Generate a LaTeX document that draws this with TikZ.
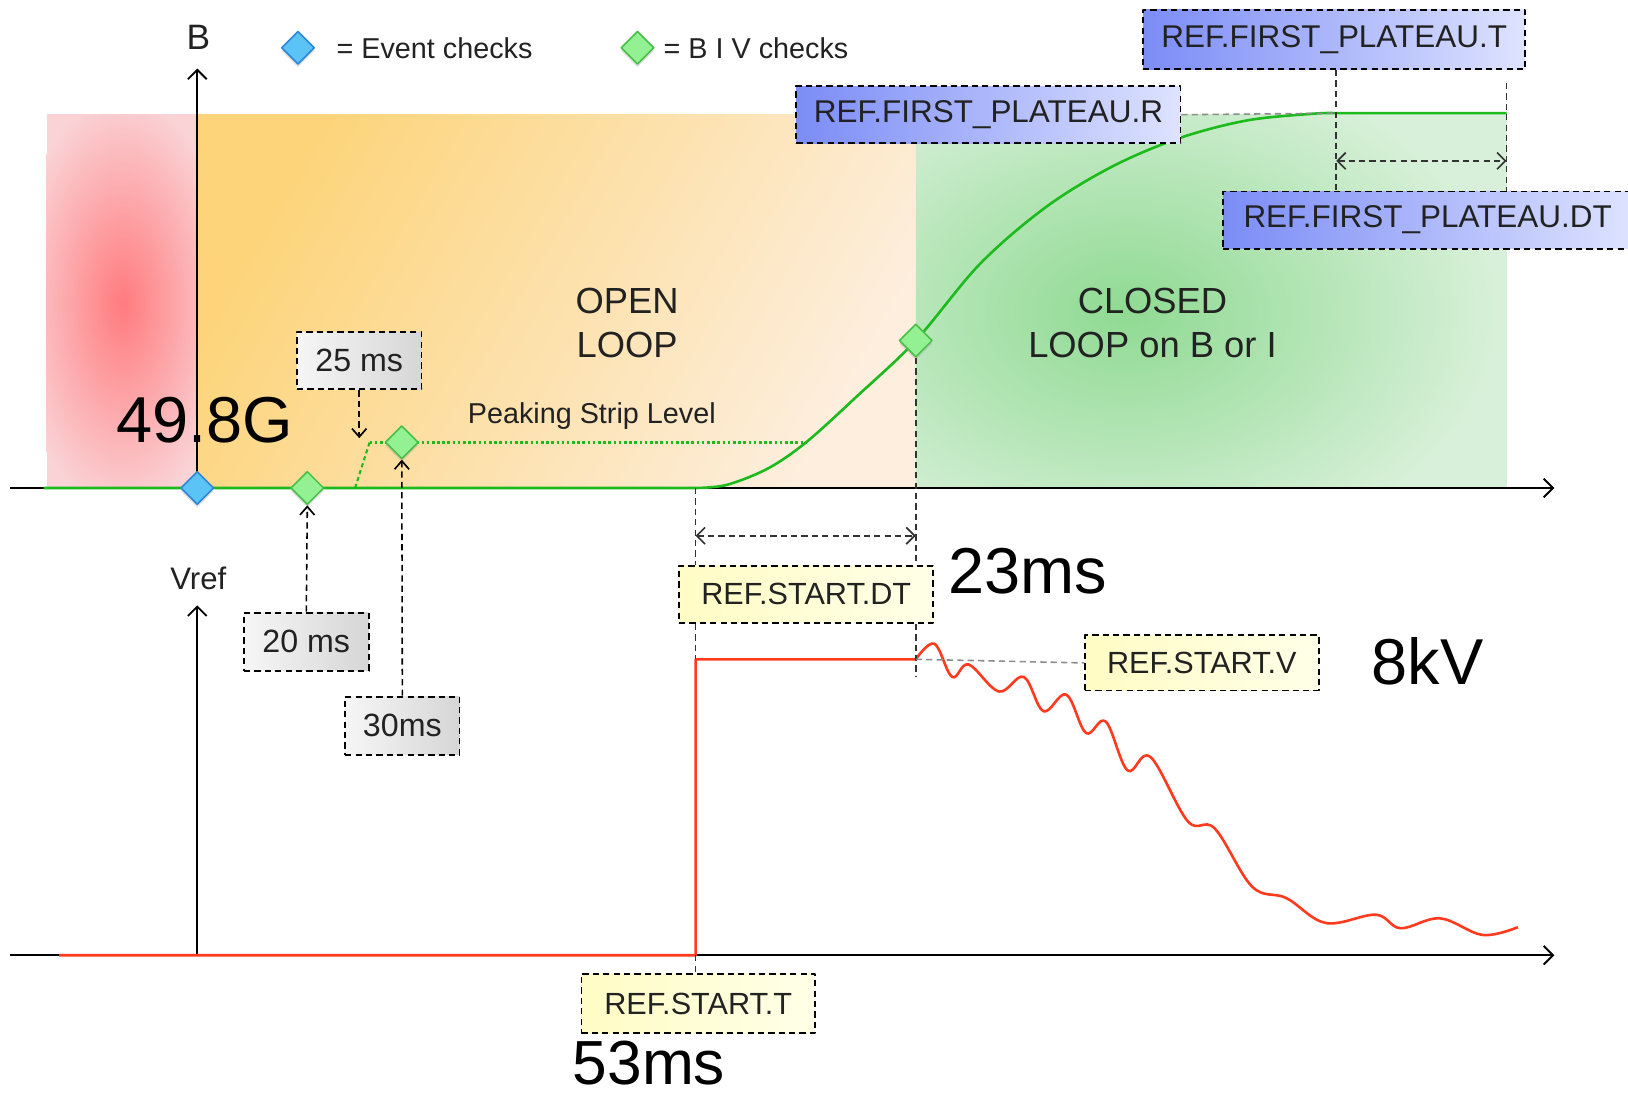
\documentclass[tikz,border=0pt]{standalone}
\usepackage{fontspec}
\setmainfont{Liberation Sans}
\usetikzlibrary{arrows.meta,positioning,shapes.geometric,calc,shadows}
\definecolor{Ink}{HTML}{222222}
\definecolor{Guide}{HTML}{333333}
\definecolor{Faint}{HTML}{8C8C8C}
\definecolor{BLine}{HTML}{1DBA1D}
\definecolor{VLine}{HTML}{FF3B1F}
\definecolor{EvFill}{HTML}{5CC3F7}
\definecolor{EvDraw}{HTML}{2E86D6}
\definecolor{ChkFill}{HTML}{93F093}
\definecolor{ChkDraw}{HTML}{47C047}
\definecolor{RedIn}{HTML}{FF7B7E}
\definecolor{RedOut}{HTML}{FAD3D6}
\definecolor{OrgA}{HTML}{FDD47A}
\definecolor{OrgB}{HTML}{FDEEDD}
\definecolor{GrnIn}{HTML}{8FDA92}
\definecolor{GrnOut}{HTML}{D8F0D9}
\definecolor{BlueA}{HTML}{7B8CF6}
\definecolor{BlueB}{HTML}{DEE3FF}
\definecolor{YelA}{HTML}{FFFCC4}
\definecolor{YelM}{HTML}{FFFA78}
\definecolor{YelB}{HTML}{FFFFE8}
\definecolor{GreyA}{HTML}{F6F6F6}
\definecolor{GreyB}{HTML}{D6D6D6}

\begin{document}
\begin{tikzpicture}[x=1pt,y=-1pt,line join=round,
  lbl/.style={text=Ink,inner sep=0pt,font=\fontsize{27.7}{33}\selectfont},
  big/.style={text=black,inner sep=0pt,font=\fontsize{62.5}{75}\selectfont},
  zone/.style={text=Ink,align=center,inner sep=0pt,font=\fontsize{35}{42}\selectfont},
  refbox/.style={draw=black,line width=1.8pt,dash pattern=on 6pt off 4pt,text=Ink,inner sep=0pt,minimum height=55pt},
  bluebox/.style={refbox,left color=BlueA,right color=BlueB,font=\fontsize{30.3}{36}\selectfont},
  yelbox/.style={refbox,left color=YelA,middle color=YelM,right color=YelB,font=\fontsize{29.5}{35}\selectfont},
  greybox/.style={refbox,left color=GreyA,right color=GreyB,font=\fontsize{31}{37}\selectfont},
  ev/.style={diamond,aspect=1,draw=EvDraw,fill=EvFill,line width=1.5pt,minimum size=32pt,inner sep=0pt,
    drop shadow={shadow xshift=0pt,shadow yshift=-3pt,opacity=0.25}},
  chk/.style={ev,draw=ChkDraw,fill=ChkFill},
  axis/.style={draw=black,line width=2pt,-{Straight Barb[length=9pt,width=18pt,line width=1.8pt]}},
  guide/.style={draw=Guide,line width=1.5pt,dash pattern=on 6pt off 4pt},
  faint/.style={guide,draw=Faint},
  dimarr/.style={guide,{Straight Barb[length=8pt,width=16pt,line width=1.6pt]}-{Straight Barb[length=8pt,width=16pt,line width=1.6pt]}},
  darrow/.style={guide,draw=black,-{Straight Barb[length=8pt,width=14pt,line width=1.6pt]}},
  bcurve/.style={draw=BLine,line width=2.5pt},
  vcurve/.style={draw=VLine,line width=2.5pt}
]
\fill[white,use as bounding box] (0,0) rectangle (1568,1056);

% zones
\fill[RedOut] (45,110) rectangle (190,470);
\begin{scope}
  \clip (45,110) rectangle (190,470);
  \shade[inner color=RedIn,outer color=RedOut] (118,292) ellipse (105 and 200);
\end{scope}
\shade[left color=OrgA,right color=OrgB,shading angle=60] (190,110) rectangle (882,470);
\fill[GrnOut] (882,110) rectangle (1451,470);
\begin{scope}
  \clip (882,110) rectangle (1451,470);
  \shade[inner color=GrnIn,outer color=GrnOut] (1085,300) ellipse (360 and 250);
\end{scope}
\node[zone] (open) at (604,311) {OPEN\\LOOP};
\node[zone] (closed) at (1110,311) {CLOSED\\LOOP on B or I};

% axes
\coordinate (hx0) at (10,470);
\coordinate (hx1) at (1497,470);
\coordinate (lx0) at (10,920);
\coordinate (lx1) at (1497,920);
\coordinate (o) at (190,470);
\coordinate (bt) at (190,66);
\coordinate (vo) at (190,920);
\coordinate (vt) at (190,583);
\draw[axis] (hx0) -- (hx1);
\draw[axis] (lx0) -- (lx1);
\draw[axis] (o) -- (bt);
\draw[axis] (vo) -- (vt);
\node[lbl,font=\fontsize{34}{40}\selectfont] (blab) at (191,36) {B};
\node[lbl,font=\fontsize{30}{36}\selectfont] (vlab) at (191,557) {Vref};

% key instants
\coordinate (ts) at (670,470);
\coordinate (tz) at (670,920);
\coordinate (vs) at (670,635);
\coordinate (vc) at (882,635);
\coordinate (pt) at (1287,109);
\coordinate (pe) at (1451,109);
\coordinate (ps0) at (342,470);
\coordinate (ps1) at (356,426);
\coordinate (ps2) at (777,426);
\coordinate (k25) at (346,422);

% B and Vref traces
\draw[bcurve,line width=2pt,dash pattern=on 4pt off 3pt] (ps0) -- (ps1);
\draw[bcurve,dash pattern=on 2.5pt off 2.5pt] (ps1) -- (ps2);
\draw[bcurve] (42,470) -- plot[smooth,tension=0.55] coordinates {(670,470) (700,467) (740,451) (777,425.5)
  (825,382) (882,328) (944,254) (1008,199) (1072,160) (1136,133) (1201,116) (1265,109.5) (1287,109)} -- (pe);
\draw[vcurve] (57,920) -- (tz) -- (vs) -- plot[smooth,tension=0.6] coordinates {(882,635) (900,620) (917,652)
  (933,640) (962,666) (986,652) (1005,685) (1027,669) (1046,706) (1065,695) (1086,742) (1108,729)
  (1144,791) (1170,798) (1206,854) (1239,865) (1277,889) (1325,881) (1349,894) (1387,884.5) (1428,900.5) (1462,893)};
\node[lbl] (psl) at (570,401) {Peaking Strip Level};

% reference boxes
\node[bluebox,minimum width=368pt,minimum height=57pt] (spt) at (1285,38) {REF.FIRST\_PLATEAU.T};
\node[bluebox,minimum width=370pt] (spr) at (952,110.5) {REF.FIRST\_PLATEAU.R};
\node[bluebox,minimum width=394pt] (spdt) at (1375,212) {REF.FIRST\_PLATEAU.DT};
\node[yelbox,minimum width=245pt] (sdt) at (776.5,572.5) {REF.START.DT};
\node[yelbox,minimum width=225pt,minimum height=53pt] (sv) at (1157.5,638.5) {REF.START.V};
\node[yelbox,minimum width=225pt,minimum height=57pt] (sst) at (672.5,966.5) {REF.START.T};
\node[greybox,minimum width=120pt] (g25) at (346,347.5) {25 ms};
\node[greybox,minimum width=120pt,minimum height=56pt] (g20) at (295,618) {20 ms};
\node[greybox,minimum width=110pt,minimum height=56pt] (g30) at (387.5,699) {30ms};

% checks
\node[ev] (lev) at (287,46) {};
\node[lbl,anchor=west] (levt) at (324,46) {= Event checks};
\node[chk] (lchk) at (614,46) {};
\node[lbl,anchor=west] (lchkt) at (639,46) {= B I V checks};
\node[ev] (e0) at (o) {};
\node[chk] (c20) at (296,470) {};
\node[chk] (c30) at (387,426) {};
\node[chk] (cc) at (882,328) {};

% guides
\draw[guide] (ts) -- (sdt.north -| ts);
\draw[guide] (sdt.south -| ts) -- (vs);
\draw[guide] (cc.south) -- (sdt.north -| cc);
\draw[guide] (sdt.south -| cc) -- ($(vc)+(0,16)$);
\draw[dimarr] ($(ts)+(0,46)$) -- ($(cc |- ts)+(0,46)$);
\draw[faint] (vc) -- (sv.west);
\draw[faint] (spr.east) -- (pt);
\draw[guide] (spt.south -| pt) -- (spdt.north -| pt);
\draw[guide] ($(pe)+(0,-29)$) -- (spdt.north -| pe);
\draw[dimarr] ($(pt)+(0,46)$) -- ($(pe)+(0,46)$);
\draw[guide] (tz) -- (sst.north -| tz);
\draw[darrow] (g25.south) -- (k25);
\draw[darrow] (g20.north) -- (c20.south);
\draw[darrow] (g30.north) -- (c30.south);

% values
\node[big] (n498) at (197,405) {49.8G};
\node[big] (n23) at (990,550) {23ms};
\node[big] (n8) at (1375,637) {8kV};
\node[big,font=\fontsize{60}{72}\selectfont] (n53) at (625,1023.5) {53ms};
\end{tikzpicture}
\end{document}
